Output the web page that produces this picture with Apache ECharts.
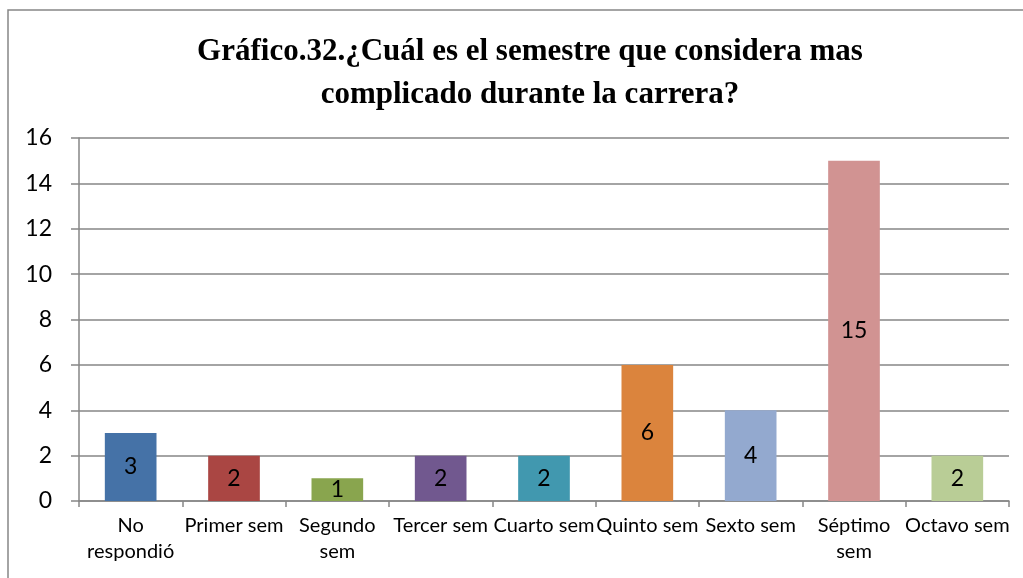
<!DOCTYPE html>
<html>
<head>
<meta charset="utf-8">
<script src="https://cdn.jsdelivr.net/npm/echarts@6/dist/echarts.min.js"></script>
<style>
  html, body { margin: 0; padding: 0; background: #fff; }
  #chart { width: 1023px; height: 578px; }
</style>
</head>
<body>
<div id="chart"></div>
<script>
// datos del gráfico
const categories = ['No\nrespondió', 'Primer sem', 'Segundo\nsem', 'Tercer sem', 'Cuarto sem',
  'Quinto sem', 'Sexto sem', 'Séptimo\nsem', 'Octavo sem'];
const values = [3, 2, 1, 2, 2, 6, 4, 15, 2];
const barColors = ['#4572a7', '#aa4643', '#89a54e', '#71588f', '#4198af',
  '#db843d', '#93a9cf', '#d19392', '#b9cd96'];
const yTicks = [0, 2, 4, 6, 8, 10, 12, 14, 16];

const myChart = echarts.init(document.getElementById('chart'));
const lineColor = '#868686';
const textFont = 'Lato, "Open Sans", sans-serif';

const option = {
  animation: false,
  backgroundColor: '#fff',
  title: {
    text: 'Gráfico.32.¿Cuál es el semestre que considera mas\ncomplicado durante la carrera?',
    left: 525,
    top: 25,
    textAlign: 'center',
    textStyle: {
      fontFamily: '"Liberation Serif", "Times New Roman", serif',
      fontWeight: 'bold',
      fontSize: 31,
      lineHeight: 43,
      color: '#000'
    }
  },
  graphic: [
    {
      type: 'polyline',
      shape: { points: [[8, 578], [8, 10], [1023, 10]] },
      style: { stroke: lineColor, lineWidth: 1.5, fill: null }
    }
  ],
  grid: {
    left: 79,
    right: 14,
    top: 138,
    bottom: 77
  },
  xAxis: {
    type: 'category',
    data: categories,
    axisLine: { lineStyle: { color: lineColor, width: 1.5 } },
    axisTick: { show: true, length: 6, lineStyle: { color: lineColor, width: 1.5 } },
    axisLabel: {
      interval: 0,
      margin: 12,
      fontFamily: textFont,
      fontSize: 20,
      lineHeight: 26,
      color: '#000'
    }
  },
  yAxis: {
    type: 'value',
    min: yTicks[0],
    max: yTicks[yTicks.length - 1],
    interval: 2,
    axisLine: { show: true, lineStyle: { color: lineColor, width: 1.5 } },
    axisTick: { show: true, length: 8, lineStyle: { color: lineColor, width: 1.5 } },
    splitLine: { lineStyle: { color: lineColor, width: 1.5 } },
    axisLabel: {
      margin: 27,
      fontFamily: textFont,
      fontSize: 23,
      color: '#000'
    }
  },
  series: [
    {
      type: 'bar',
      data: values.map((v, i) => ({ value: v, itemStyle: { color: barColors[i] } })),
      barWidth: '50%',
      label: {
        show: true,
        position: 'inside',
        fontFamily: textFont,
        fontSize: 23,
        color: '#000'
      }
    }
  ]
};

myChart.setOption(option);
</script>
</body>
</html>
